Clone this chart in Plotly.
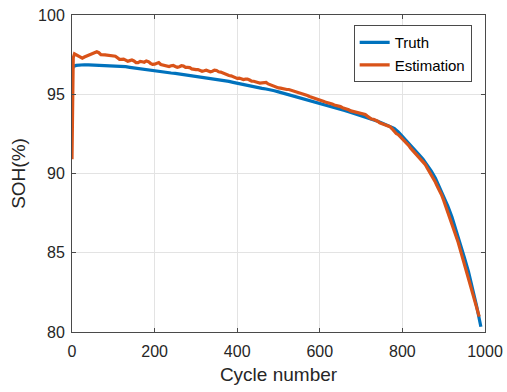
import plotly.graph_objects as go

# Cycle index and state-of-health values (percent)
truth_cycles = [0, 3, 10, 20, 30, 40, 50, 60, 70, 80, 90, 100, 110, 120, 130, 140, 150,
                160, 170, 180, 190, 200, 210, 220, 230, 240, 250, 260, 270, 280, 290,
                300, 310, 320, 330, 340, 350, 360, 370, 380, 390, 400, 410, 420, 430,
                440, 450, 460, 470, 480, 490, 500, 510, 520, 530, 540, 550, 560, 570,
                580, 590, 600, 610, 620, 630, 640, 650, 660, 670, 680, 690, 700, 710,
                720, 730, 740, 750, 760, 770, 780, 790, 800, 810, 820, 830, 840, 850,
                860, 870, 880, 890, 900, 910, 920, 930, 940, 950, 960, 970, 980, 990]
truth_soh = [96.50, 96.75, 96.82, 96.85, 96.86, 96.85, 96.84, 96.86, 96.83, 96.82, 96.83,
             96.80, 96.78, 96.76, 96.74, 96.70, 96.66, 96.62, 96.57, 96.55, 96.50, 96.47,
             96.44, 96.42, 96.38, 96.34, 96.32, 96.28, 96.25, 96.22, 96.18, 96.15, 96.12,
             96.09, 96.05, 96.01, 95.97, 95.92, 95.87, 95.81, 95.75, 95.69, 95.64, 95.59,
             95.54, 95.48, 95.42, 95.37, 95.33, 95.29, 95.22, 95.15, 95.08, 95.00, 94.91,
             94.85, 94.78, 94.72, 94.65, 94.58, 94.50, 94.43, 94.37, 94.30, 94.22, 94.13,
             94.05, 93.98, 93.89, 93.81, 93.73, 93.64, 93.56, 93.48, 93.39, 93.29, 93.19,
             93.09, 92.99, 92.85, 92.62, 92.35, 92.05, 91.75, 91.50, 91.20, 90.90, 90.55,
             90.15, 89.70, 89.15, 88.60, 87.95, 87.25, 86.45, 85.60, 84.70, 83.80, 82.80,
             81.60, 80.33]

# Estimated SOH: readings every 10 cycles ...
est_cycles = [0, 3, 6, 10, 15, 20, 25, 30, 40, 50, 60, 65, 70, 80, 90, 100, 110, 120, 130,
              140, 150, 160, 170, 180, 190, 200, 210, 220, 230, 240, 250, 260, 270, 280,
              290, 300, 310, 320, 330, 340, 350, 360, 370, 380, 390, 400, 410, 420, 430,
              440, 450, 460, 470, 480, 490, 500, 510, 520, 530, 540, 550, 560, 570, 580,
              590, 600, 610, 620, 630, 640, 650, 660, 670, 680, 690, 700, 710, 720, 730,
              740, 750, 760, 770, 780, 790, 800, 810, 820, 830, 840, 850, 860, 870, 880,
              890, 900, 910, 920, 930, 940, 950, 960, 970, 980, 986]
est_soh = [90.90, 97.30, 97.55, 97.50, 97.45, 97.35, 97.28, 97.35, 97.45, 97.60, 97.68,
           97.62, 97.50, 97.48, 97.45, 97.42, 97.30, 97.20, 97.15, 97.12, 97.10, 97.00,
           97.05, 97.10, 96.95, 96.90, 97.00, 96.85, 96.80, 96.80, 96.75, 96.74, 96.78,
           96.70, 96.60, 96.55, 96.50, 96.48, 96.47, 96.45, 96.50, 96.40, 96.25, 96.18,
           96.10, 96.00, 95.98, 95.95, 95.90, 95.82, 95.74, 95.72, 95.75, 95.60, 95.50,
           95.40, 95.35, 95.30, 95.26, 95.20, 95.10, 95.02, 94.92, 94.82, 94.72, 94.65,
           94.55, 94.47, 94.38, 94.30, 94.22, 94.12, 94.02, 93.92, 93.86, 93.78, 93.72,
           93.50, 93.42, 93.30, 93.15, 93.05, 92.95, 92.65, 92.45, 92.15, 91.90, 91.60,
           91.35, 91.00, 90.75, 90.35, 89.95, 89.45, 88.95, 88.30, 87.60, 86.85, 86.05,
           85.20, 84.35, 83.45, 82.55, 81.60, 80.97]

# ... and the in-between readings (cycles 105, 115, ..., 975) that carry the ripple
est_mid_cycles = list(range(105, 985, 10))
est_mid_soh = [97.40, 97.20, 97.22, 97.08, 97.16, 97.00, 97.07, 97.02, 97.06, 96.88,
               96.98, 96.88, 96.86, 96.75, 96.82, 96.70, 96.80, 96.70, 96.68, 96.55,
               96.56, 96.45, 96.52, 96.42, 96.52, 96.42, 96.34, 96.20, 96.16, 96.03,
               96.02, 95.93, 95.96, 95.83, 95.80, 95.70, 95.78, 95.65, 95.57, 95.43,
               95.39, 95.30, 95.30, 95.21, 95.17, 95.04, 94.99, 94.86, 94.79, 94.66,
               94.62, 94.49, 94.45, 94.32, 94.28, 94.15, 94.09, 93.95, 93.91, 93.80,
               93.77, 93.62, 93.44, 93.38, 93.20, 93.12, 92.98, 92.82, 92.52, 92.32,
               92.00, 91.78, 91.45, 91.20, 90.85, 90.58, 90.12, 89.73, 89.16, 88.65,
               87.92, 87.26, 86.42, 85.66, 84.74, 83.93, 82.97, 82.10]

est_points = sorted(zip(est_cycles + est_mid_cycles, est_soh + est_mid_soh))
est_x = [p[0] for p in est_points]
est_y = [p[1] for p in est_points]

x_ticks = [0, 200, 400, 600, 800, 1000]
y_ticks = [80, 85, 90, 95, 100]

font_family = "Liberation Sans, Arial, Helvetica, sans-serif"
text_color = "#262626"
axis_color = "#4a4a4a"
grid_color = "#e3e3e3"

fig = go.Figure()
fig.add_trace(go.Scatter(x=truth_cycles, y=truth_soh, mode="lines", name="Truth",
                         line=dict(color="#0072BD", width=3.2)))
fig.add_trace(go.Scatter(x=est_x, y=est_y, mode="lines", name="Estimation",
                         line=dict(color="#D95319", width=3.2)))

axis_common = dict(
    showline=True, linecolor=axis_color, linewidth=1, mirror="ticks",
    ticks="inside", ticklen=4, tickwidth=1, tickcolor=axis_color,
    showgrid=True, gridcolor=grid_color, gridwidth=1, zeroline=False,
    automargin=False,
    tickfont=dict(family=font_family, size=16, color=text_color),
)

fig.update_xaxes(range=[0, 1000], tickvals=x_ticks, ticklabelstandoff=5,
                 title=dict(text="Cycle number", standoff=8,
                            font=dict(family=font_family, size=19, color=text_color)),
                 **axis_common)
fig.update_yaxes(range=[80, 100], tickvals=y_ticks, ticklabelstandoff=3,
                 title=dict(text="SOH(%)", standoff=7,
                            font=dict(family=font_family, size=19, color=text_color)),
                 **axis_common)

fig.update_layout(
    width=507, height=392,
    margin=dict(l=72, r=22, t=15, b=60),
    paper_bgcolor="white", plot_bgcolor="white",
    font=dict(family=font_family, color=text_color),
    showlegend=True,
    legend=dict(x=0.682, y=0.968, xanchor="left", yanchor="top",
                bgcolor="white", bordercolor="#4a4a4a", borderwidth=1,
                font=dict(family=font_family, size=15, color="black"),
                tracegroupgap=0, itemwidth=30),
)

fig.write_html("out.html")
